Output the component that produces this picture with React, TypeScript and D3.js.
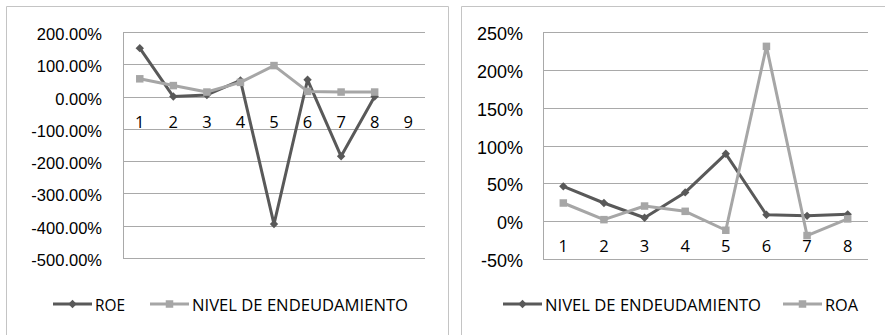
import React from "react";
import * as d3 from "d3";

// Left chart: ROE vs debt level, 9 periods on the axis
const leftCategories = ["1", "2", "3", "4", "5", "6", "7", "8", "9"];
const roeValues = [1.5, 0.0, 0.05, 0.5, -3.95, 0.52, -1.85, 0.0];
const nivelLeftValues = [0.55, 0.34, 0.14, 0.44, 0.96, 0.16, 0.14, 0.14];
const leftTicks = [-5, -4, -3, -2, -1, 0, 1, 2];

// Right chart: debt level vs ROA, 8 periods
const rightCategories = ["1", "2", "3", "4", "5", "6", "7", "8"];
const nivelRightValues = [0.46, 0.24, 0.045, 0.38, 0.89, 0.085, 0.07, 0.09];
const roaValues = [0.24, 0.02, 0.2, 0.13, -0.12, 2.31, -0.19, 0.03];
const rightTicks = [-0.5, 0, 0.5, 1, 1.5, 2, 2.5];

const DARK = "#595959";
const LIGHT = "#A6A6A6";
const GRID = "#A9A9A9";
const FRAME = "#C4C4C4";
const AXIS_FONT = "'Liberation Sans', Arial, sans-serif";
const CAT_FONT = "'Open Sans', 'Noto Sans', sans-serif";

const locale = d3.formatLocale({
  decimal: ".",
  thousands: ",",
  grouping: [3],
  currency: ["$", ""],
  minus: "-",
});

type Series = { name: string; values: number[]; color: string; marker: "diamond" | "square" };

type PanelProps = {
  categories: string[];
  ticks: number[];
  fmt: (v: number) => string;
  series: Series[];
  plot: { x0: number; x1: number; y0: number; y1: number };
  tickFont: number;
  labelRight: number;
  legend: { lineX: number; textLen: number }[];
  legendY: number;
};

function Marker({ kind, x, y, color }: { kind: string; x: number; y: number; color: string }) {
  if (kind === "diamond") {
    const r = 4.2;
    return <path d={`M${x},${y - r}L${x + r},${y}L${x},${y + r}L${x - r},${y}Z`} fill={color} />;
  }
  const s = 7.5;
  return <rect x={x - s / 2} y={y - s / 2} width={s} height={s} fill={color} />;
}

function Panel({ categories, ticks, fmt, series, plot, tickFont, labelRight, legend, legendY }: PanelProps) {
  const x = d3.scaleBand<string>().domain(categories).range([plot.x0, plot.x1]);
  const y = d3
    .scaleLinear()
    .domain([d3.min(ticks)!, d3.max(ticks)!])
    .range([plot.y1, plot.y0]);
  const cx = (i: number) => x(categories[i])! + x.bandwidth() / 2;
  const line = d3
    .line<number>()
    .x((_, i) => cx(i))
    .y((v) => y(v));

  return (
    <g>
      {ticks.map((t) => (
        <g key={t}>
          <line x1={plot.x0} x2={plot.x1} y1={Math.round(y(t)) + 0.5} y2={Math.round(y(t)) + 0.5} stroke={GRID} strokeWidth={1} />
          <text
            x={labelRight}
            y={y(t) + 2}
            textAnchor="end"
            dominantBaseline="central"
            fontFamily={AXIS_FONT}
            fontSize={tickFont}
            fill="#000"
          >
            {fmt(t)}
          </text>
        </g>
      ))}
      <line x1={plot.x0 + 0.5} x2={plot.x0 + 0.5} y1={y(d3.max(ticks)!)} y2={y(d3.min(ticks)!)} stroke={GRID} strokeWidth={1} />
      {categories.map((c, i) => (
        <text
          key={c}
          x={cx(i)}
          y={y(0) + 31}
          textAnchor="middle"
          fontFamily={CAT_FONT}
          fontSize={16.5}
          fill="#000"
        >
          {c}
        </text>
      ))}
      {series.map((s) => (
        <g key={s.name}>
          <path d={line(s.values)!} fill="none" stroke={s.color} strokeWidth={3} strokeLinejoin="round" />
          {s.values.map((v, i) => (
            <Marker key={i} kind={s.marker} x={cx(i)} y={y(v)} color={s.color} />
          ))}
        </g>
      ))}
      {series.map((s, k) => {
        const lx = legend[k].lineX;
        return (
          <g key={"lg" + s.name}>
            <line x1={lx} x2={lx + 39} y1={legendY} y2={legendY} stroke={s.color} strokeWidth={3} />
            <Marker kind={s.marker} x={lx + 19.5} y={legendY} color={s.color} />
            <text
              x={lx + 42}
              y={legendY + 6.5}
              fontFamily={CAT_FONT}
              fontSize={16.5}
              textLength={legend[k].textLen}
              lengthAdjust="spacingAndGlyphs"
              fill="#000"
            >
              {s.name}
            </text>
          </g>
        );
      })}
    </g>
  );
}

export default function App() {
  const pct2 = locale.format(".2%");
  const pct0 = locale.format(".0%");
  return (
    <div style={{ position: "fixed", left: 0, top: 0 }}>
      <svg width={885} height={335} style={{ display: "block", background: "#fff" }}>
        <rect x={0} y={0} width={885} height={335} fill="#fff" />
        {/* panel frames */}
        <path d="M6.5,340V6.5H448.5V340" fill="none" stroke={FRAME} strokeWidth={1} />
        <path d="M461.5,340V6.5H890" fill="none" stroke={FRAME} strokeWidth={1} />
        <Panel
          categories={leftCategories}
          ticks={leftTicks}
          fmt={pct2}
          series={[
            { name: "ROE", values: roeValues, color: DARK, marker: "diamond" },
            { name: "NIVEL DE ENDEUDAMIENTO", values: nivelLeftValues, color: LIGHT, marker: "square" },
          ]}
          plot={{ x0: 123, x1: 425, y0: 32, y1: 258 }}
          tickFont={16.5}
          labelRight={102}
          legend={[
            { lineX: 53, textLen: 30 },
            { lineX: 150, textLen: 216 },
          ]}
          legendY={304}
        />
        <Panel
          categories={rightCategories}
          ticks={rightTicks}
          fmt={pct0}
          series={[
            { name: "NIVEL DE ENDEUDAMIENTO", values: nivelRightValues, color: DARK, marker: "diamond" },
            { name: "ROA", values: roaValues, color: LIGHT, marker: "square" },
          ]}
          plot={{ x0: 543, x1: 868, y0: 32, y1: 259 }}
          tickFont={18}
          labelRight={523}
          legend={[
            { lineX: 503, textLen: 216 },
            { lineX: 783, textLen: 33 },
          ]}
          legendY={304}
        />
      </svg>
    </div>
  );
}
